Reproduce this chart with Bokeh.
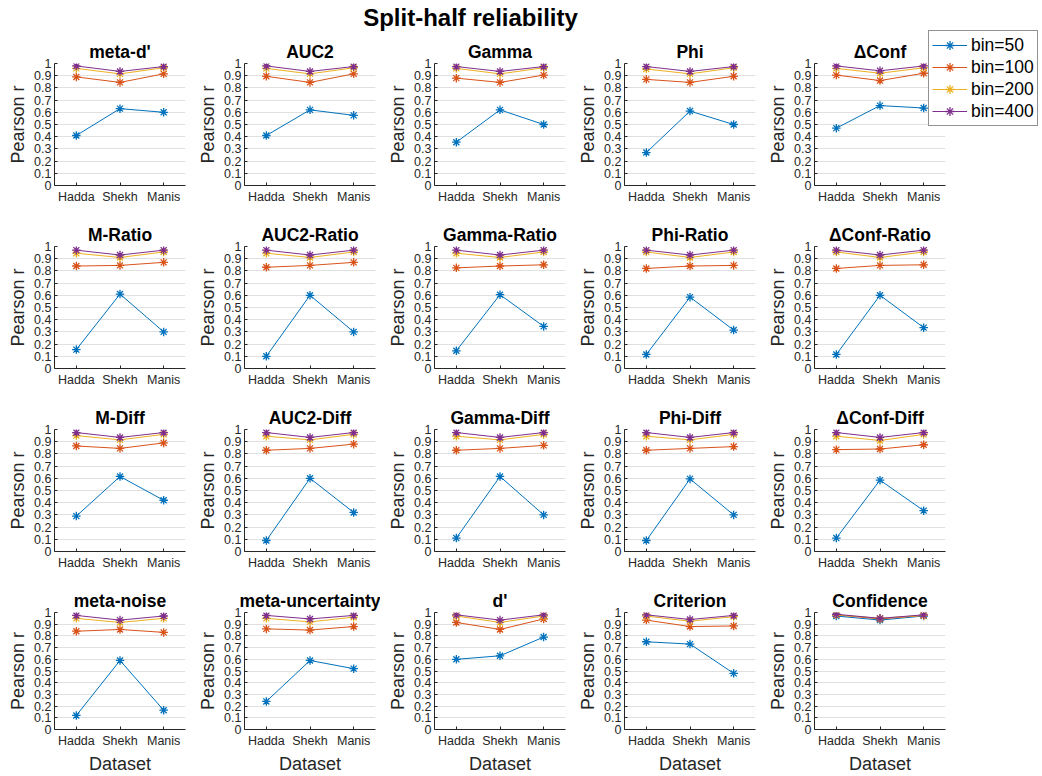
from bokeh.plotting import figure
from bokeh.layouts import column, row
from bokeh.models import FactorRange, Range1d, FixedTicker, Legend, LegendItem, Label
from bokeh.embed import file_html
from bokeh.resources import INLINE

# ---------------- data ----------------
datasets = ["Hadda", "Shekh", "Manis"]
bin_labels = ["bin=50", "bin=100", "bin=200", "bin=400"]
colors = ["#0072BD", "#D95319", "#EDB120", "#7E2F8E"]

y_ticks = [0, 0.1, 0.2, 0.3, 0.4, 0.5, 0.6, 0.7, 0.8, 0.9, 1]
y_tick_labels = ["0", "0.1", "0.2", "0.3", "0.4", "0.5", "0.6", "0.7", "0.8", "0.9", "1"]

panel_titles = [
    "meta-d'", "AUC2", "Gamma", "Phi", "\u0394Conf",
    "M-Ratio", "AUC2-Ratio", "Gamma-Ratio", "Phi-Ratio", "\u0394Conf-Ratio",
    "M-Diff", "AUC2-Diff", "Gamma-Diff", "Phi-Diff", "\u0394Conf-Diff",
    "meta-noise", "meta-uncertainty", "d'", "Criterion", "Confidence",
]

r_bin50 = [
    [0.41, 0.63, 0.60], [0.41, 0.62, 0.575], [0.355, 0.62, 0.50], [0.27, 0.61, 0.50], [0.47, 0.655, 0.635],
    [0.155, 0.61, 0.30], [0.10, 0.60, 0.30], [0.145, 0.605, 0.345], [0.115, 0.585, 0.315], [0.115, 0.60, 0.335],
    [0.29, 0.615, 0.42], [0.09, 0.60, 0.32], [0.11, 0.615, 0.30], [0.09, 0.595, 0.30], [0.11, 0.585, 0.335],
    [0.12, 0.59, 0.165], [0.24, 0.59, 0.52], [0.60, 0.63, 0.79], [0.75, 0.73, 0.48], [0.97, 0.935, 0.97],
]
r_bin100 = [
    [0.89, 0.845, 0.915], [0.895, 0.845, 0.915], [0.88, 0.845, 0.905], [0.87, 0.845, 0.895], [0.905, 0.86, 0.92],
    [0.84, 0.845, 0.87], [0.83, 0.845, 0.87], [0.825, 0.84, 0.85], [0.82, 0.84, 0.845], [0.82, 0.845, 0.85],
    [0.865, 0.845, 0.89], [0.83, 0.845, 0.88], [0.83, 0.845, 0.87], [0.83, 0.845, 0.86], [0.835, 0.84, 0.875],
    [0.84, 0.855, 0.83], [0.86, 0.85, 0.88], [0.915, 0.855, 0.945], [0.935, 0.88, 0.885], [0.98, 0.945, 0.975],
]
r_bin200 = [
    [0.96, 0.915, 0.965], [0.96, 0.915, 0.965], [0.96, 0.915, 0.965], [0.955, 0.915, 0.965], [0.96, 0.92, 0.965],
    [0.945, 0.91, 0.955], [0.945, 0.91, 0.955], [0.945, 0.91, 0.955], [0.955, 0.91, 0.955], [0.955, 0.91, 0.955],
    [0.95, 0.915, 0.96], [0.945, 0.915, 0.96], [0.945, 0.915, 0.96], [0.945, 0.915, 0.96], [0.945, 0.91, 0.96],
    [0.95, 0.915, 0.95], [0.95, 0.92, 0.96], [0.97, 0.915, 0.97], [0.97, 0.925, 0.965], [0.98, 0.95, 0.975],
]
r_bin400 = [
    [0.98, 0.935, 0.975], [0.98, 0.935, 0.975], [0.975, 0.935, 0.975], [0.975, 0.935, 0.975], [0.98, 0.94, 0.98],
    [0.97, 0.93, 0.97], [0.97, 0.93, 0.97], [0.97, 0.93, 0.97], [0.97, 0.93, 0.97], [0.97, 0.93, 0.97],
    [0.975, 0.935, 0.975], [0.975, 0.935, 0.975], [0.975, 0.935, 0.975], [0.975, 0.935, 0.975], [0.975, 0.935, 0.975],
    [0.975, 0.935, 0.97], [0.975, 0.945, 0.975], [0.98, 0.935, 0.98], [0.98, 0.94, 0.975], [0.985, 0.95, 0.98],
]
series = [r_bin50, r_bin100, r_bin200, r_bin400]

main_title = "Split-half reliability"
x_label = "Dataset"
y_label = "Pearson r"

# ---------------- style / layout ----------------
FONT = "Liberation Sans"
TXT = "#262626"
H0 = 32          # main title strip (layout height)
TOP_H = 130      # drawn height of the title/legend overlay
T = 31           # top border of each panel
FH = 122         # frame height
FW = 131         # frame width
CELL_H = 183
CELL_W = 190
LEFT = 54
B = CELL_H - T - FH
B4 = 776 - (H0 + 3 * CELL_H + T + FH)
MARKER_SIZE = 8.5
MARKER_LW = 1.3


def style_axes(p):
    p.yaxis.ticker = FixedTicker(ticks=y_ticks)
    p.yaxis.major_label_overrides = {t: s for t, s in zip(y_ticks, y_tick_labels)}
    for ax in (p.xaxis[0], p.yaxis[0]):
        ax.axis_line_color = TXT
        ax.axis_line_width = 1
        ax.major_tick_line_color = TXT
        ax.major_tick_in = 3
        ax.major_tick_out = 0
        ax.minor_tick_line_color = None
        ax.major_label_text_font = FONT
        ax.major_label_text_font_size = "12.5px"
        ax.major_label_text_color = TXT
        ax.axis_label_text_font = FONT
        ax.axis_label_text_font_size = "18px"
        ax.axis_label_text_font_style = "normal"
        ax.axis_label_text_color = TXT
    p.yaxis.major_label_standoff = 3
    p.yaxis.axis_label = y_label
    p.yaxis.axis_label_standoff = 3
    p.xaxis.major_label_standoff = 4


def make_panel(k, r, c):
    last = (r == 3)
    w = CELL_W
    h = CELL_H if not last else T + FH + B4
    p = figure(
        width=w, height=h,
        x_range=FactorRange(*datasets, range_padding=0),
        y_range=Range1d(0, 1),
        output_backend="svg", toolbar_location=None,
        min_border_left=LEFT, min_border_right=w - LEFT - FW,
        min_border_top=T, min_border_bottom=(B4 if last else B),
        title=panel_titles[k],
    )
    p.title.text_font = FONT
    p.title.text_font_size = "17.5px"
    p.title.text_font_style = "bold"
    p.title.text_color = "#000000"
    p.title.align = "center"
    p.title.standoff = 4
    p.outline_line_color = None
    p.background_fill_color = None
    p.border_fill_color = None
    p.xgrid.grid_line_color = None
    p.ygrid.grid_line_color = "#e0e0e0"
    p.ygrid.grid_line_width = 1
    style_axes(p)
    if last:
        p.xaxis.axis_label = x_label
        p.xaxis.axis_label_standoff = 3

    for s, col in zip(series, colors):
        vals = s[k]
        p.line(x=datasets, y=vals, line_color=col, line_width=1)
        p.scatter(x=datasets, y=vals, marker="asterisk", size=MARKER_SIZE,
                  line_color=col, line_width=MARKER_LW)
    return p


# title strip; it is drawn taller than its layout slot and overlays the first row
tp = figure(width=1042, height=TOP_H, x_range=FactorRange(*datasets), y_range=Range1d(0, 1),
            x_axis_type=None, y_axis_type=None, output_backend="svg",
            toolbar_location=None, min_border=0, title=None,
            min_border_left=0, min_border_right=0, min_border_top=0, min_border_bottom=0,
            margin=(0, 0, -(TOP_H - H0), 0),
            styles={"position": "relative", "z-index": "10"})
tp.outline_line_color = None
tp.background_fill_color = None
tp.border_fill_color = None
tp.xgrid.grid_line_color = None
tp.ygrid.grid_line_color = None
tp.add_layout(Label(x=470, y=TOP_H - 17, x_units="screen", y_units="screen",
                    text=main_title, text_align="center", text_baseline="middle",
                    text_font=FONT, text_font_size="24px", text_font_style="bold",
                    text_color="#000000"))

# legend glyph renderers (hidden) in the overlay figure
items = []
for lab, s, col in zip(bin_labels, series, colors):
    ln = tp.line(x=datasets, y=s[4], line_color=col, line_width=1, visible=False)
    mk = tp.scatter(x=datasets, y=s[4], marker="asterisk", size=MARKER_SIZE,
                    line_color=col, line_width=MARKER_LW, visible=False)
    items.append(LegendItem(label=lab, renderers=[ln, mk]))
ROW_H = 22
PAD = 3
LEG_H = 2 * PAD + 4 * ROW_H
legend = Legend(
    items=items, location=(928, TOP_H - (32 + LEG_H)),
    padding=PAD, spacing=0, margin=0,
    glyph_width=35, glyph_height=ROW_H, label_height=ROW_H,
    label_standoff=4,
    label_text_font=FONT, label_text_font_size="17.5px", label_text_color="#000000",
    border_line_color=TXT, border_line_width=1,
    background_fill_color="white", background_fill_alpha=1,
)
tp.add_layout(legend)

rows = [tp]
for r in range(4):
    panels = [make_panel(r * 5 + c, r, c) for c in range(5)]
    rows.append(row(*panels, spacing=0))

layout = column(*rows, spacing=0)

open("out.html", "w").write(file_html(layout, INLINE))
